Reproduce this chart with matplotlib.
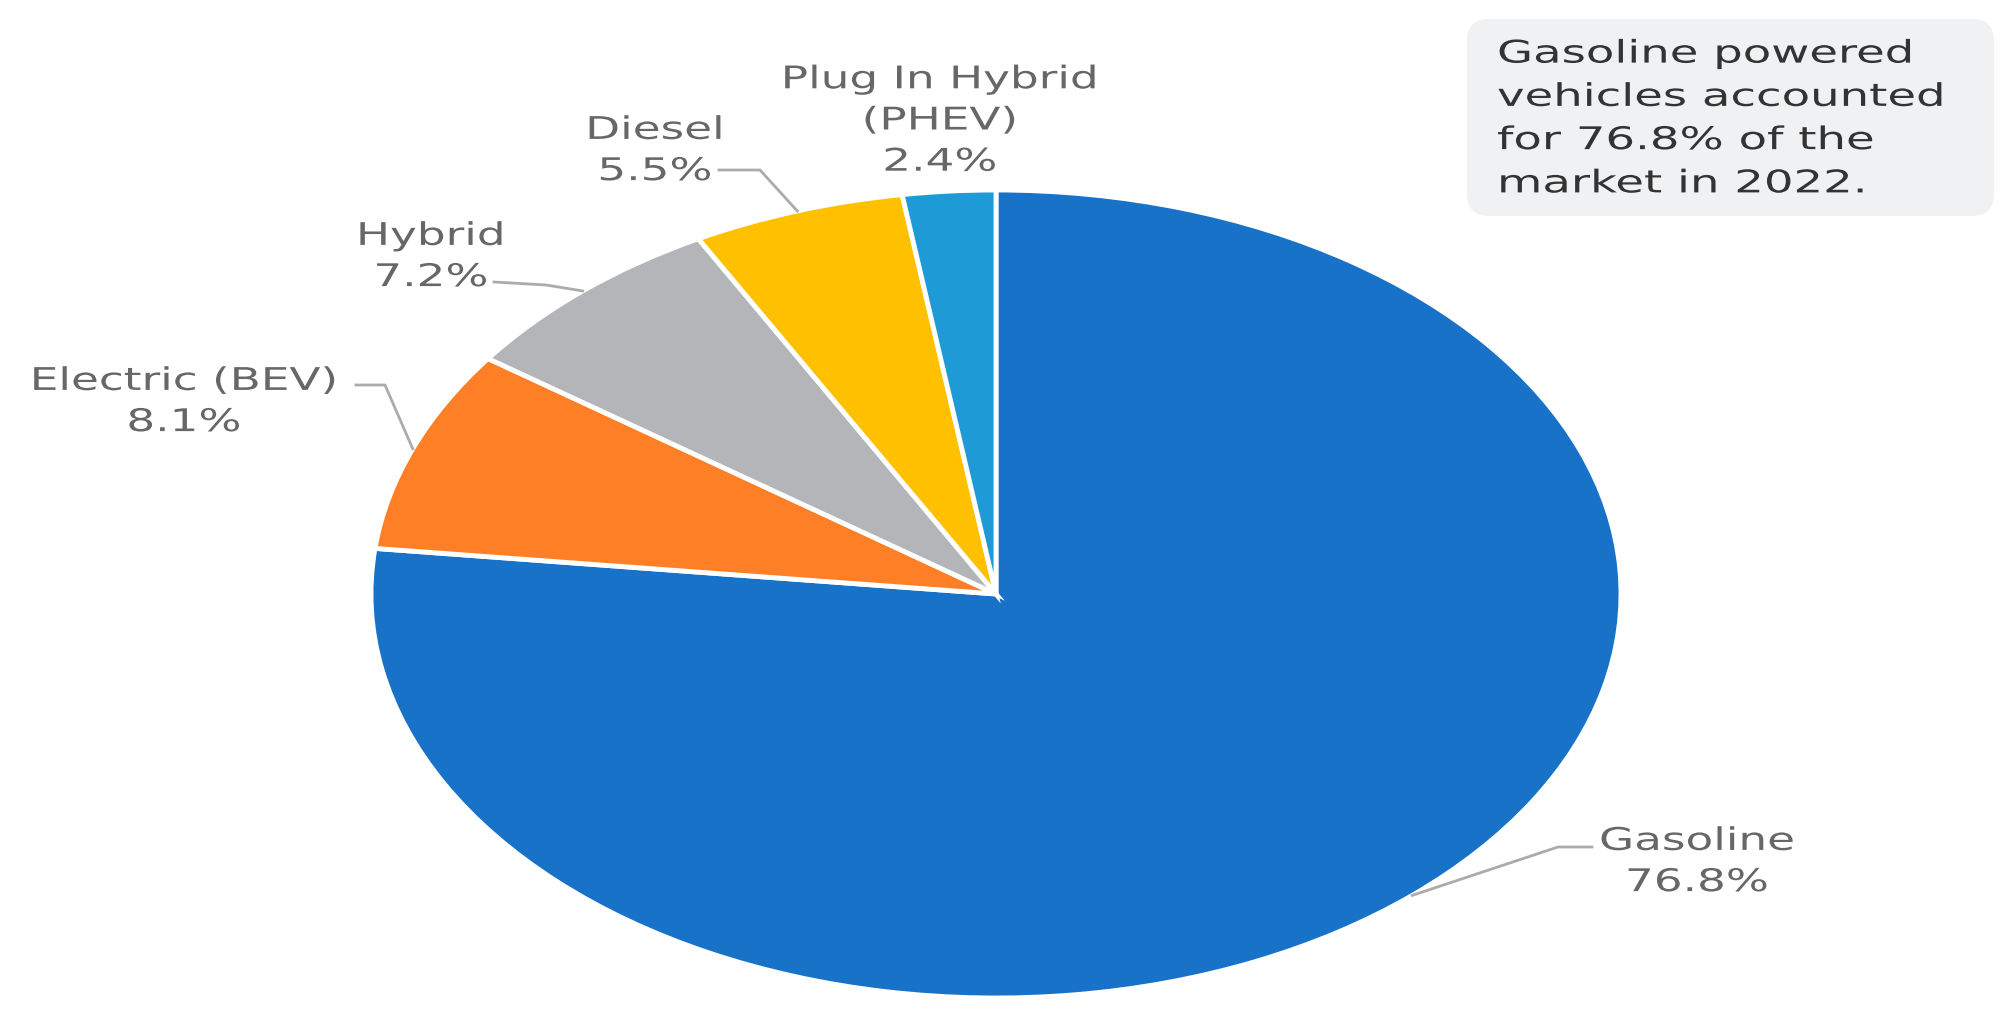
import numpy as np
import matplotlib.pyplot as plt
from matplotlib.patches import FancyBboxPatch
from matplotlib.patheffects import AbstractPathEffect
from matplotlib.transforms import Affine2D

# market share 2022 by powertrain
labels = ["Gasoline", "Electric (BEV)", "Hybrid", "Diesel", "Plug In Hybrid\n(PHEV)"]
shares = [76.8, 8.1, 7.2, 5.5, 2.4]
colors = ["#1872C8", "#FF7F27", "#B4B5B8", "#FFC000", "#1E9BD7"]

note = "Gasoline powered\nvehicles accounted\nfor 76.8% of the\nmarket in 2022."

W, H = 2013, 1026


class HStretch(AbstractPathEffect):
    """Widen glyphs horizontally about a fixed x (in pixels) - the source image is stretched."""

    def __init__(self, sx, x0):
        super().__init__()
        self.sx = sx
        self.x0 = x0

    def draw_path(self, renderer, gc, tpath, affine, rgbFace=None):
        st = Affine2D().translate(-self.x0, 0).scale(self.sx, 1).translate(self.x0, 0)
        renderer.draw_path(gc, tpath, affine + st, rgbFace)


fig = plt.figure(figsize=(W / 100, H / 100), dpi=100)

# pie axes: its box is the bounding box of the (stretched) ellipse
cx, cy, rx, ry = 996, 594, 625, 404
ax = fig.add_axes([(cx - rx) / W, (H - cy - ry) / H, 2 * rx / W, 2 * ry / H])
wedges, _ = ax.pie(shares, colors=colors, startangle=90, counterclock=False,
                   wedgeprops=dict(edgecolor="white", linewidth=3.5))
ax.set_aspect("auto")
ax.set_xlim(-1, 1)
ax.set_ylim(-1, 1)
ax.axis("off")

# overlay axes in pixel coordinates for labels and leaders
ov = fig.add_axes([0, 0, 1, 1], zorder=3)
ov.set_xlim(0, W)
ov.set_ylim(H, 0)
ov.axis("off")
ov.patch.set_alpha(0)

lab_col = "#676767"
line_col = "#ABABAB"
fs = 22.5

# text centre (px) and leader points (end, elbow) in px; None = no leader
label_pos = [(1697, 862), (184, 402), (431, 257), (655, 151), (940, 121)]
leaders = [((1592, 847), (1558, 847)),
           ((356, 385), (385, 385)),
           ((494, 282), (546, 285)),
           ((719, 170), (760, 170)),
           None]

to_px = ov.transData.inverted()
for w, lab, val, pos, ld in zip(wedges, labels, shares, label_pos, leaders):
    ov.text(pos[0], pos[1], f"{lab}\n{val}%", ha="center", va="center",
            fontsize=fs, color=lab_col, linespacing=1.53, family="DejaVu Sans",
            path_effects=[HStretch(1.45, pos[0])])
    if ld is None:
        continue
    mid = np.deg2rad((w.theta1 + w.theta2) / 2)
    anchor = to_px.transform(ax.transData.transform((np.cos(mid), np.sin(mid))))
    xs = [ld[0][0], ld[1][0], anchor[0]]
    ys = [ld[0][1], ld[1][1], anchor[1]]
    ov.plot(xs, ys, color=line_col, lw=2)

# note box at top right
box = FancyBboxPatch((1467, 19), 527, 197, boxstyle="round,pad=0,rounding_size=22",
                     facecolor="#F0F1F3", edgecolor="none")
ov.add_patch(box)
ov.text(1497, 119, note, ha="left", va="center", fontsize=fs,
        color="#333333", linespacing=1.62, family="DejaVu Sans",
        path_effects=[HStretch(1.49, 1497)])

fig.savefig("out.png", dpi=100)
